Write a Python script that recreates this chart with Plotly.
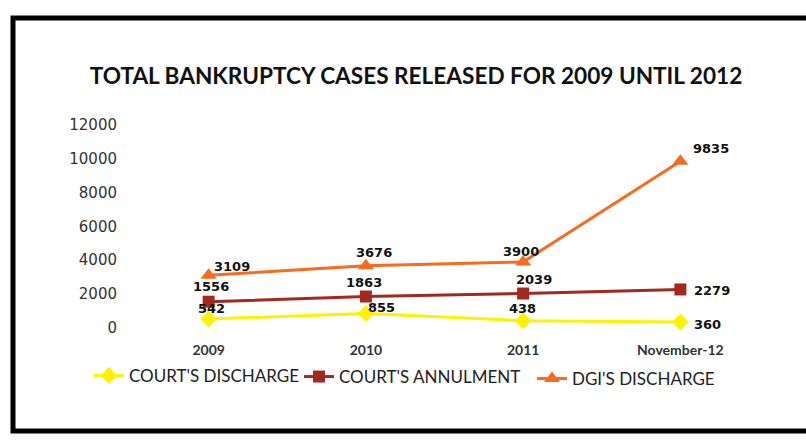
import plotly.graph_objects as go

categories = ["2009", "2010", "2011", "November-12"]
courts_discharge = [542, 855, 438, 360]
courts_annulment = [1556, 1863, 2039, 2279]
dgi_discharge = [3109, 3676, 3900, 9835]
y_ticks = [0, 2000, 4000, 6000, 8000, 10000, 12000]
y_tick_labels = ["0", "2000", "4000", "6000", "8000", "10000", "12000"]

W, H = 806, 441
L, R, T, B = 130, 47, 116, 101
PW, PH = W - L - R, H - T - B

def px(xp):
    return (xp - L) / PW

def py(yp):
    return (H - B - yp) / PH

label_font = dict(family="DejaVu Sans", size=13, color="#111111", weight="bold")

series = [
    dict(name="COURT'S DISCHARGE", values=courts_discharge, color="#FFF200",
         symbol="diamond", size=13, legend="legend",
         shifts=[(3, 10), (16, 6), (-1, 12), (27, -2)]),
    dict(name="COURT'S ANNULMENT", values=courts_annulment, color="#A3291F",
         symbol="square", size=12, legend="legend2",
         shifts=[(2, 15), (-2, 14), (11, 14), (32, -1)]),
    dict(name="DGI'S DISCHARGE", values=dgi_discharge, color="#F86B1C",
         symbol="triangle-up", size=14, legend="legend3",
         shifts=[(23, 9), (8, 13), (-2, 10), (31, 13)]),
]

fig = go.Figure()
for s in series:
    fig.add_trace(go.Scatter(
        x=categories, y=s["values"], name=s["name"], mode="lines+markers",
        line=dict(color=s["color"], width=3),
        marker=dict(symbol=s["symbol"], size=s["size"], color=s["color"]),
        legend=s["legend"],
    ))
    for i, (val, (dx, dy)) in enumerate(zip(s["values"], s["shifts"])):
        # category axis: annotation x given as category index
        fig.add_annotation(x=i, y=val, xref="x", yref="y", text=str(val),
                           showarrow=False, xanchor="center", yanchor="middle",
                           xshift=dx, yshift=dy, font=label_font)

leg_common = dict(orientation="h", yanchor="middle", xanchor="left",
                  bgcolor="rgba(0,0,0,0)",
                  font=dict(family="Lato", size=17, color="#222222"),
                  itemwidth=30)
fig.update_layout(
    width=W, height=H,
    margin=dict(l=L, r=R, t=T, b=B, autoexpand=False),
    paper_bgcolor="white", plot_bgcolor="white",
    title=dict(text="<b>TOTAL BANKRUPTCY CASES RELEASED FOR 2009 UNTIL 2012</b>",
               x=416 / W, xanchor="center", y=1 - 76 / H, yanchor="middle",
               yref="container",
               font=dict(family="Lato", size=22.6, color="#111111")),
    xaxis=dict(type="category", categoryorder="array", categoryarray=categories,
               range=[-0.5, 3.5], showgrid=False, showline=False,
               zeroline=False, ticks="",
               tickfont=dict(family="Lato", size=14, color="#333333", weight="bold")),
    yaxis=dict(range=[-700, 12500], tickvals=y_ticks, ticktext=y_tick_labels,
               showgrid=False, showline=False,
               zeroline=False, ticks="", ticklen=0, ticklabelstandoff=12,
               tickfont=dict(family="DejaVu Sans", size=15, color="#333333")),
    legend=dict(x=px(89), y=py(376), **leg_common),
    legend2=dict(x=px(299), y=py(377), **leg_common),
    legend3=dict(x=px(532), y=py(379), **leg_common),
    showlegend=True,
)

# scanned page frame
fig.add_shape(type="rect", xref="paper", yref="paper",
              x0=px(13), x1=px(815), y0=py(18), y1=py(431),
              line=dict(color="black", width=5), fillcolor="rgba(0,0,0,0)",
              layer="below")

fig.write_html("out.html", config={"displayModeBar": False},
               post_script="document.body.style.margin='0';document.body.style.overflow='hidden';")
